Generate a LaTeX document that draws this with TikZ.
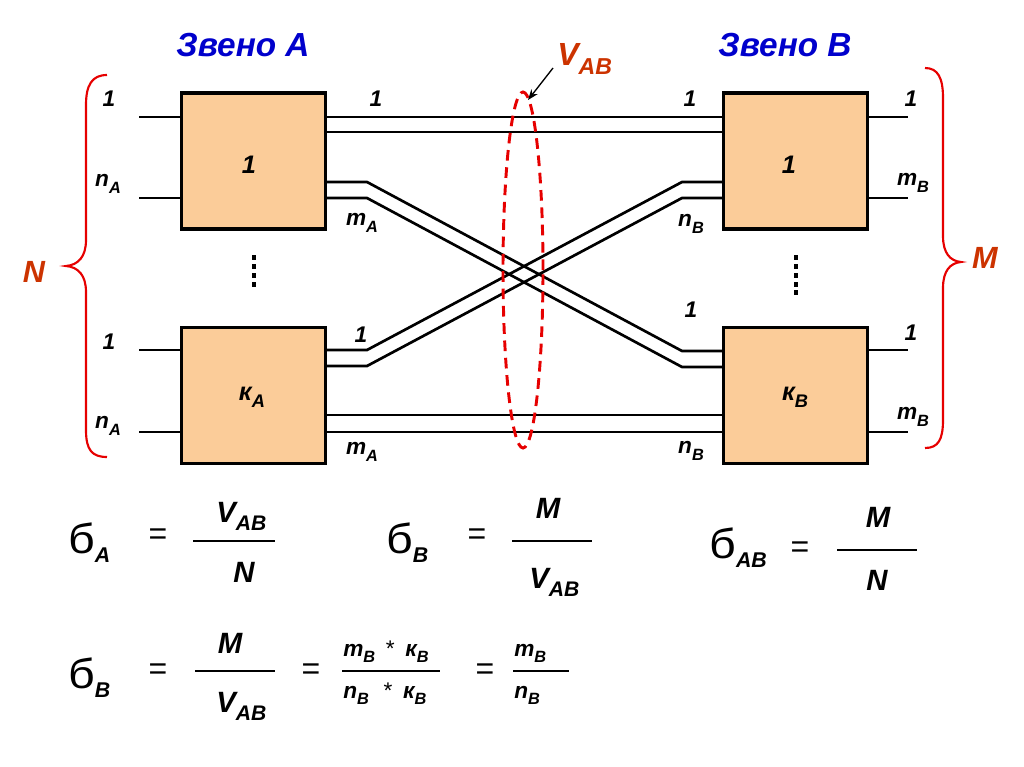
\documentclass[tikz,border=0pt]{standalone}
\usepackage{fontspec}
\usepackage{graphicx}
\setmainfont{Liberation Sans}
\usetikzlibrary{calc,arrows.meta}
\definecolor{boxfill}{RGB}{251,204,153}
\definecolor{zblue}{RGB}{0,0,204}
\definecolor{vred}{RGB}{204,51,0}
\definecolor{bred}{RGB}{230,0,0}
\newcommand\lsub[1]{\raisebox{-0.55ex}{\scalebox{0.72}{#1}}}
\begin{document}
\begin{tikzpicture}[x=0.75pt,y=-0.75pt]
\useasboundingbox (0,0) rectangle (1024,767);
\tikzset{
  box/.style={draw=black, line width=2.3pt, fill=boxfill, minimum width=108pt, minimum height=102pt, inner sep=0pt},
  wire/.style={line width=2pt},
  lbl/.style={font=\fontsize{17}{17}\selectfont\bfseries\itshape, inner sep=0pt},
  boxlbl/.style={font=\fontsize{19}{19}\selectfont\bfseries\itshape, inner sep=0pt},
  title/.style={font=\fontsize{25}{25}\selectfont\bfseries\itshape, text=zblue, inner sep=0pt},
  redlbl/.style={font=\fontsize{23}{23}\selectfont\bfseries\itshape, text=vred, inner sep=0pt},
  bracestyle/.style={draw=bred, line width=1.6pt},
  dotsq/.style={fill=black},
  frac/.style={font=\fontsize{22}{22}\selectfont\bfseries\itshape, inner sep=0pt},
  smallfrac/.style={font=\fontsize{17}{17}\selectfont\bfseries\itshape, inner sep=0pt},
  sig/.style={font=\fontsize{28}{28}\selectfont, inner sep=0pt},
  eq/.style={font=\fontsize{24}{24}\selectfont, inner sep=0pt},
  fline/.style={line width=1.6pt}
}
\newcommand\sigsub[1]{\raisebox{-7pt}{\fontsize{16}{16}\selectfont\bfseries\itshape #1}}
\newcommand\bsig{\scalebox{1.25}[1.12]{б}}

% named free ends of stubs
\coordinate (ia1) at (139,117);
\coordinate (ia2) at (139,198);
\coordinate (ia3) at (139,350);
\coordinate (ia4) at (139,432);
\coordinate (ob1) at (908,117);
\coordinate (ob2) at (908,198);
\coordinate (ob3) at (908,350);
\coordinate (ob4) at (908,432);

% boxes
\node[box] (a1) at (253.5,161) {};
\node[box] (ka) at (253.5,395.5) {};
\node[box] (b1) at (795.5,161) {};
\node[box] (kb) at (795.5,395.5) {};

\draw[wire] (ia1) -- (a1.west |- ia1);
\draw[wire] (ia2) -- (a1.west |- ia2);
\draw[wire] (ia3) -- (ka.west |- ia3);
\draw[wire] (ia4) -- (ka.west |- ia4);
\draw[wire] (b1.east |- ob1) -- (ob1);
\draw[wire] (b1.east |- ob2) -- (ob2);
\draw[wire] (kb.east |- ob3) -- (ob3);
\draw[wire] (kb.east |- ob4) -- (ob4);

\draw[wire] (a1.east |- 0,117) -- (b1.west |- 0,117);
\draw[wire] (a1.east |- 0,132) -- (b1.west |- 0,132);
\draw[wire] (a1.east |- 0,182) -- (367,182) -- (682,351) -- (kb.west |- 0,351);
\draw[wire] (a1.east |- 0,198) -- (367,198) -- (682,367) -- (kb.west |- 0,367);
\draw[wire] (ka.east |- 0,350) -- (367,350) -- (682,182) -- (b1.west |- 0,182);
\draw[wire] (ka.east |- 0,366) -- (367,366) -- (682,198) -- (b1.west |- 0,198);
\draw[wire] (ka.east |- 0,415) -- (kb.west |- 0,415);
\draw[wire] (ka.east |- 0,432) -- (kb.west |- 0,432);

% box labels
\node[boxlbl] (a1t) at (249,165) {1};
\node[boxlbl] (kat) at (252,397) {к\lsub{A}};
\node[boxlbl] (b1t) at (789,165) {1};
\node[boxlbl] (kbt) at (795,397) {к\lsub{B}};

% dots
\foreach \yy in {257,266,275,284} \fill[dotsq] (251.5,\yy-2.5) rectangle (255.5,\yy+2.5);
\foreach \yy in {257,266,275,284,292} \fill[dotsq] (793.5,\yy-2.5) rectangle (797.5,\yy+2.5);

% port labels
\node[lbl] (l1) at (109,99) {1};
\node[lbl] (l2) at (108,184) {n\lsub{A}};
\node[lbl] (l3) at (109,342) {1};
\node[lbl] (l4) at (108,426) {n\lsub{A}};
\node[lbl] (l5) at (376,99) {1};
\node[lbl] (l6) at (362,223) {m\lsub{A}};
\node[lbl] (l7) at (361,335) {1};
\node[lbl] (l8) at (362,452) {m\lsub{A}};
\node[lbl] (l9) at (690,99) {1};
\node[lbl] (l10) at (691,224) {n\lsub{B}};
\node[lbl] (l11) at (691,310) {1};
\node[lbl] (l12) at (691,451) {n\lsub{B}};
\node[lbl] (l13) at (911,99) {1};
\node[lbl] (l14) at (913,183) {m\lsub{B}};
\node[lbl] (l15) at (911,333) {1};
\node[lbl] (l16) at (913,417) {m\lsub{B}};

% titles
\node[title] (ta) at (243,45) {Звено A};
\node[title] (tb) at (785,45) {Звено B};

% braces
\draw[bracestyle] (107,75) .. controls (92,75) and (86,85) .. (86,105) -- (86,240)
  .. controls (86,257) and (78,265) .. (66,266) .. controls (78,267) and (86,275) .. (86,292)
  -- (86,430) .. controls (86,450) and (92,457) .. (107,457);
\draw[bracestyle] (925,68) .. controls (938,68) and (943,78) .. (943,98) -- (943,236)
  .. controls (943,253) and (950,261) .. (961,262) .. controls (950,263) and (943,271) .. (943,288)
  -- (943,420) .. controls (943,440) and (938,448) .. (925,448);
\node[redlbl] (nN) at (34,272) {N};
\node[redlbl] (nM) at (985,258) {M};

% ellipse and V_AB
\draw[draw=bred, line width=2.2pt, dash pattern=on 8pt off 5pt] (523,270) ellipse [x radius=15pt, y radius=133.5pt];
\node[redlbl, font=\fontsize{24}{24}\selectfont\bfseries\itshape, anchor=base west] (vab) at (557,65) {V\lsub{AB}};
\coordinate (varr) at (553,68);
\coordinate (vtip) at (528,100);
\draw[line width=1pt, -{Stealth[length=8pt,width=6pt]}] (varr) -- (vtip);

% formulas row 1
\node[sig, anchor=base west] (s1) at (68,553) {\bsig\sigsub{A}};
\node[eq] (e1) at (158,537) {=};
\coordinate (f1a) at (193,541); \coordinate (f1b) at (275,541);
\draw[fline] (f1a) -- (f1b);
\node[frac, anchor=base west] (n1) at (216,522) {V\lsub{AB}};
\node[frac] (d1) at (244,572) {N};

\node[sig, anchor=base west] (s2) at (386,553) {\bsig\sigsub{B}};
\node[eq] (e2) at (477,537) {=};
\coordinate (f2a) at (512,541); \coordinate (f2b) at (592,541);
\draw[fline] (f2a) -- (f2b);
\node[frac] (n2) at (548,508) {M};
\node[frac, anchor=base west] (d2) at (529,588) {V\lsub{AB}};

\node[sig, anchor=base west] (s3) at (709,558) {\bsig\sigsub{AB}};
\node[eq] (e3) at (800,550) {=};
\coordinate (f3a) at (837,550); \coordinate (f3b) at (917,550);
\draw[fline] (f3a) -- (f3b);
\node[frac] (n3) at (878,517) {M};
\node[frac] (d3) at (877,580) {N};

% formulas row 2
\node[sig, anchor=base west] (s4) at (68,688) {\bsig\sigsub{B}};
\node[eq] (e4) at (158,672) {=};
\coordinate (f4a) at (195,671); \coordinate (f4b) at (275,671);
\draw[fline] (f4a) -- (f4b);
\node[frac] (n4) at (230,643) {M};
\node[frac, anchor=base west] (d4) at (216,712) {V\lsub{AB}};

\node[eq] (e5) at (311,672) {=};
\coordinate (f5a) at (342,671); \coordinate (f5b) at (440,671);
\draw[fline] (f5a) -- (f5b);
\node[smallfrac, anchor=base west] (n5) at (343,656) {m\lsub{B}\hspace{8pt}{\mdseries\upshape *}\hspace{8pt}к\lsub{B}};
\node[smallfrac, anchor=base west] (d5) at (343,698) {n\lsub{B}\hspace{11pt}{\mdseries\upshape *}\hspace{8pt}к\lsub{B}};

\node[eq] (e6) at (485,672) {=};
\coordinate (f6a) at (513,671); \coordinate (f6b) at (569,671);
\draw[fline] (f6a) -- (f6b);
\node[smallfrac, anchor=base west] (n6) at (514,656) {m\lsub{B}};
\node[smallfrac, anchor=base west] (d6) at (514,698) {n\lsub{B}};
\end{tikzpicture}
\end{document}
